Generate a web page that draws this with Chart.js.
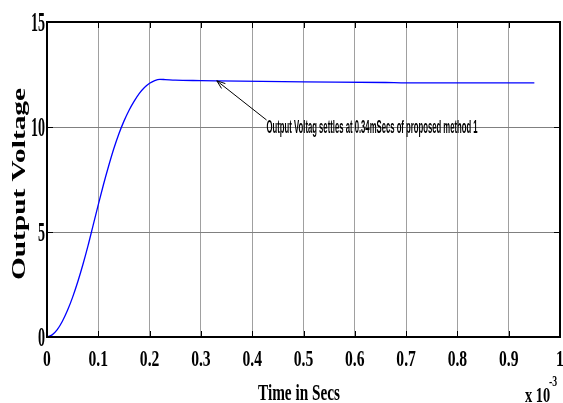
<!DOCTYPE html>
<html>
<head>
<meta charset="utf-8">
<script src="https://cdn.jsdelivr.net/npm/chart.js@4/dist/chart.umd.min.js"></script>
<style>
    html, body { margin: 0; padding: 0; background: #fff; }
    #wrap { width: 563px; height: 403px; }
</style>
</head>
<body>
<div id="wrap"><canvas id="chart" width="563" height="403"></canvas></div>
<script>
// Time axis values are in ms (axis shows x 10^-3 s)
const timeMs = [0, 0.01, 0.02, 0.03, 0.04, 0.05, 0.06, 0.07, 0.08, 0.09, 0.1,
    0.11, 0.12, 0.13, 0.14, 0.15, 0.16, 0.17, 0.18, 0.19, 0.2, 0.21, 0.22, 0.23,
    0.25, 0.3, 0.33, 0.46, 0.5, 0.66, 0.7, 0.95];
const voltage = [0, 0.1, 0.35, 0.75, 1.27, 1.9, 2.63, 3.45, 4.35, 5.33, 6.3,
    7.25, 8.13, 8.95, 9.67, 10.28, 10.8, 11.23, 11.6, 11.88, 12.08, 12.21, 12.27, 12.26,
    12.23, 12.21, 12.2, 12.16, 12.15, 12.12, 12.1, 12.1];

const xTickValues = [0, 0.1, 0.2, 0.3, 0.4, 0.5, 0.6, 0.7, 0.8, 0.9, 1];
const xTickLabels = ['0', '0.1', '0.2', '0.3', '0.4', '0.5', '0.6', '0.7', '0.8', '0.9', '1'];
const yTickValues = [0, 5, 10, 15];
const yTickLabels = ['0', '5', '10', '15'];

const xTitle = 'Time in Secs';
const yTitle = 'Output Voltage';
const noteText = 'Output Voltag settles at 0.34mSecs of proposed method 1';
const notePoint = { x: 0.331, y: 12.2 };   // arrow tip
const noteAnchor = { x: 0.428, y: 10 };    // text start

const serif = "'Liberation Serif', 'Times New Roman', serif";
const sans = "'Liberation Sans', Arial, sans-serif";

// draw text squeezed (or stretched) horizontally by factor sx
function squeezed(ctx, text, x, y, font, sx, align) {
    ctx.save();
    ctx.font = font;
    const w = ctx.measureText(text).width * sx;
    let left = x;
    if (align === 'center') left = x - w / 2;
    if (align === 'right') left = x - w;
    ctx.translate(left, y);
    ctx.scale(sx, 1);
    ctx.textAlign = 'left';
    ctx.fillText(text, 0, 0);
    ctx.restore();
}

function fitWidth(ctx, text, font, target) {
    ctx.font = font;
    return target / ctx.measureText(text).width;
}

const decorations = {
    id: 'decorations',
    afterDraw(chart) {
        const ctx = chart.ctx;
        const xs = chart.scales.x;
        const ys = chart.scales.y;
        const area = chart.chartArea;

        ctx.save();
        ctx.fillStyle = '#000';
        ctx.strokeStyle = '#000';
        ctx.textBaseline = 'alphabetic';

        // frame
        ctx.lineWidth = 2;
        ctx.strokeRect(area.left, area.top, area.right - area.left, area.bottom - area.top);

        // inward tick marks
        ctx.lineWidth = 1;
        ctx.beginPath();
        xTickValues.forEach(v => {
            const px = Math.round(xs.getPixelForValue(v)) + 0.5;
            ctx.moveTo(px, area.bottom); ctx.lineTo(px, area.bottom - 6);
            ctx.moveTo(px, area.top); ctx.lineTo(px, area.top + 6);
        });
        yTickValues.forEach(v => {
            const py = Math.round(ys.getPixelForValue(v)) + 0.5;
            ctx.moveTo(area.left, py); ctx.lineTo(area.left + 6, py);
            ctx.moveTo(area.right, py); ctx.lineTo(area.right - 6, py);
        });
        ctx.stroke();

        // tick labels
        xTickValues.forEach((v, i) => {
            squeezed(ctx, xTickLabels[i], xs.getPixelForValue(v), 366, 'bold 23px ' + serif, 0.68, 'center');
        });
        yTickValues.forEach((v, i) => {
            squeezed(ctx, yTickLabels[i], 45, ys.getPixelForValue(v) + 9, 'bold 27px ' + serif, 0.52, 'right');
        });

        // x title
        const xf = 'bold 24px ' + serif;
        squeezed(ctx, xTitle, 299, 400, xf, fitWidth(ctx, xTitle, xf, 82), 'center');

        // x 10^-3
        squeezed(ctx, 'x 10', 525, 402, 'bold 20px ' + serif, 0.72, 'left');
        squeezed(ctx, '-3', 549, 386, 'bold 14px ' + serif, 0.7, 'left');

        // y title, stretched along its length, rotated
        ctx.save();
        ctx.translate(25, 184);
        ctx.rotate(-Math.PI / 2);
        const yf = 'bold 18px ' + serif;
        squeezed(ctx, yTitle, 0, 0, yf, fitWidth(ctx, yTitle, yf, 192), 'center');
        ctx.restore();

        // annotation
        const tipX = xs.getPixelForValue(notePoint.x);
        const tipY = ys.getPixelForValue(notePoint.y);
        const txtX = xs.getPixelForValue(noteAnchor.x);
        const txtY = ys.getPixelForValue(noteAnchor.y);
        ctx.lineWidth = 1;
        ctx.beginPath();
        ctx.moveTo(txtX, txtY - 7);
        ctx.lineTo(tipX, tipY);
        const ang = Math.atan2(txtY - 7 - tipY, txtX - tipX);
        ctx.moveTo(tipX + 9 * Math.cos(ang - 0.35), tipY + 9 * Math.sin(ang - 0.35));
        ctx.lineTo(tipX, tipY);
        ctx.lineTo(tipX + 9 * Math.cos(ang + 0.35), tipY + 9 * Math.sin(ang + 0.35));
        ctx.stroke();

        const nf = 'bold 18px ' + sans;
        squeezed(ctx, noteText, txtX, txtY + 6, nf, fitWidth(ctx, noteText, nf, 211), 'left');

        ctx.restore();
    }
};

new Chart(document.getElementById('chart'), {
    type: 'line',
    data: {
        datasets: [{
            data: timeMs.map((t, i) => ({ x: t, y: voltage[i] })),
            borderColor: '#0000ff',
            borderWidth: 1.3,
            pointRadius: 0,
            fill: false,
            cubicInterpolationMode: 'monotone'
        }]
    },
    options: {
        responsive: false,
        animation: false,
        events: [],
        layout: { padding: { top: 22, right: 3, left: 0, bottom: 0 } },
        plugins: {
            legend: { display: false },
            tooltip: { enabled: false }
        },
        scales: {
            x: {
                type: 'linear',
                min: 0,
                max: 1,
                afterBuildTicks: s => { s.ticks = xTickValues.map(v => ({ value: v })); },
                ticks: { display: false },
                grid: { color: '#a0a0a0', drawTicks: false },
                border: { display: false },
                afterFit: s => { s.height = 66; }
            },
            y: {
                min: 0,
                max: 15,
                afterBuildTicks: s => { s.ticks = yTickValues.map(v => ({ value: v })); },
                ticks: { display: false },
                grid: { color: '#808080', drawTicks: false },
                border: { display: false },
                afterFit: s => { s.width = 47; }
            }
        }
    },
    plugins: [decorations]
});
</script>
</body>
</html>
